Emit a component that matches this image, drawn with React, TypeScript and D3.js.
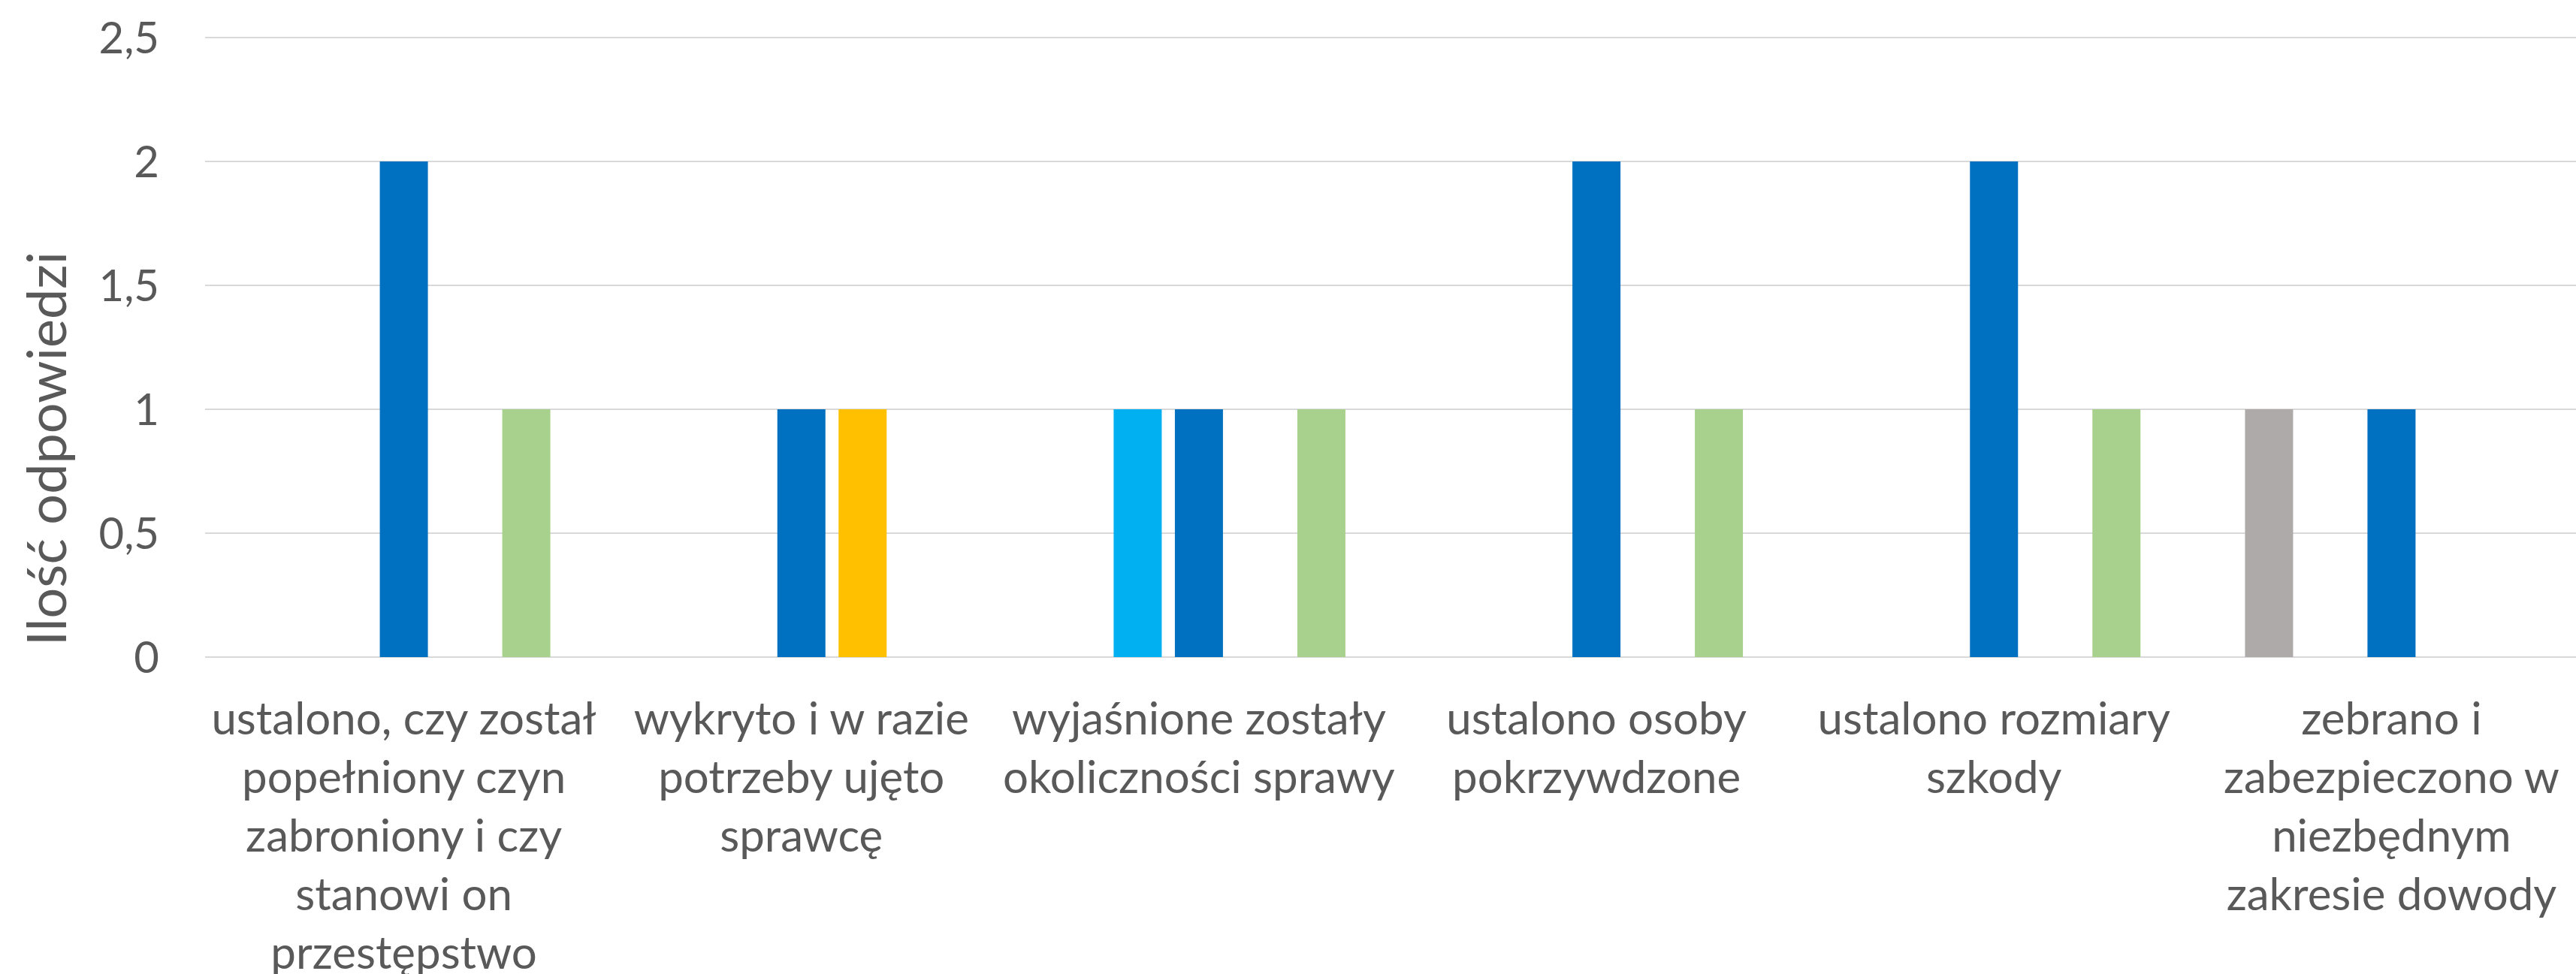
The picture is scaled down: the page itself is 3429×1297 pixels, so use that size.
import React, { useEffect } from "react";
import * as d3 from "d3";

// ---- data ----
const categories: string[][] = [
  ["ustalono, czy został", "popełniony czyn", "zabroniony i czy", "stanowi on", "przestępstwo"],
  ["wykryto i w razie", "potrzeby ujęto", "sprawcę"],
  ["wyjaśnione zostały", "okoliczności sprawy"],
  ["ustalono osoby", "pokrzywdzone"],
  ["ustalono rozmiary", "szkody"],
  ["zebrano i", "zabezpieczono w", "niezbędnym", "zakresie dowody"],
];
const seriesNames = ["Seria 1", "Seria 2", "Seria 3", "Seria 4", "Seria 5"];
const seriesGrey = [0, 0, 0, 0, 0, 1];
const seriesLightBlue = [0, 0, 1, 0, 0, 0];
const seriesDarkBlue = [2, 1, 1, 2, 2, 1];
const seriesOrange = [0, 1, 0, 0, 0, 0];
const seriesGreen = [1, 0, 1, 1, 1, 0];
const seriesColors = ["#AEAAAA", "#00B0F0", "#0070C0", "#FFC000", "#A9D18E"];
const yTicks = [0, 0.5, 1, 1.5, 2, 2.5];
const yTitle = "Ilość odpowiedzi";

const W = 3429;
const H = 1297;
const FONT = "Lato, 'Open Sans', sans-serif";
const TEXT = "#595959";

export default function App() {
  useEffect(() => {
    document.body.style.margin = "0";
  }, []);

  const series = [seriesGrey, seriesLightBlue, seriesDarkBlue, seriesOrange, seriesGreen];
  const catKeys = categories.map((_, i) => String(i));

  const x = d3.scaleBand<string>().domain(catKeys).range([273, 3448]).paddingInner(0).paddingOuter(0);
  const inner = d3.scalePoint<string>().domain(seriesNames).range([-163, 163]);
  const y = d3.scaleLinear().domain([0, 2.5]).range([875, 50]);
  const barW = 64;
  const fmt = (v: number) => String(v).replace(".", ",");

  return (
    <svg
      width={W}
      height={H}
      style={{ position: "absolute", left: 0, top: 0, display: "block", background: "#fff" }}
      fontFamily={FONT}
    >
      <rect x={0} y={0} width={W} height={H} fill="#fff" />
      {/* gridlines */}
      {yTicks.map((t) => (
        <line key={t} x1={273} x2={3448} y1={y(t)} y2={y(t)} stroke="#D9D9D9" strokeWidth={2} />
      ))}
      {/* y tick labels */}
      {yTicks.map((t) => (
        <text key={"l" + t} x={212} y={y(t)} dy="0.36em" textAnchor="end" fontSize={58} fill={TEXT}>
          {fmt(t)}
        </text>
      ))}
      {/* bars */}
      {series.map((vals, si) =>
        vals.map((v, ci) => {
          if (!v) return null;
          const cx = (x(String(ci)) as number) + x.bandwidth() / 2 + (inner(seriesNames[si]) as number);
          return (
            <rect
              key={si + "-" + ci}
              x={cx - barW / 2}
              y={y(v)}
              width={barW}
              height={y(0) - y(v)}
              fill={seriesColors[si]}
            />
          );
        })
      )}
      {/* category labels */}
      {categories.map((lines, ci) => {
        const cx = (x(String(ci)) as number) + x.bandwidth() / 2;
        return (
          <text key={"c" + ci} x={cx} y={978} textAnchor="middle" fontSize={60} fill={TEXT}>
            {lines.map((ln, li) => (
              <tspan key={li} x={cx} y={978 + li * 78}>
                {ln}
              </tspan>
            ))}
          </text>
        );
      })}
      {/* y title */}
      <text
        transform={`translate(88, ${(50 + 875) / 2 + 135}) rotate(-90)`}
        textAnchor="middle"
        fontSize={72}
        fill={TEXT}
      >
        {yTitle}
      </text>
    </svg>
  );
}
